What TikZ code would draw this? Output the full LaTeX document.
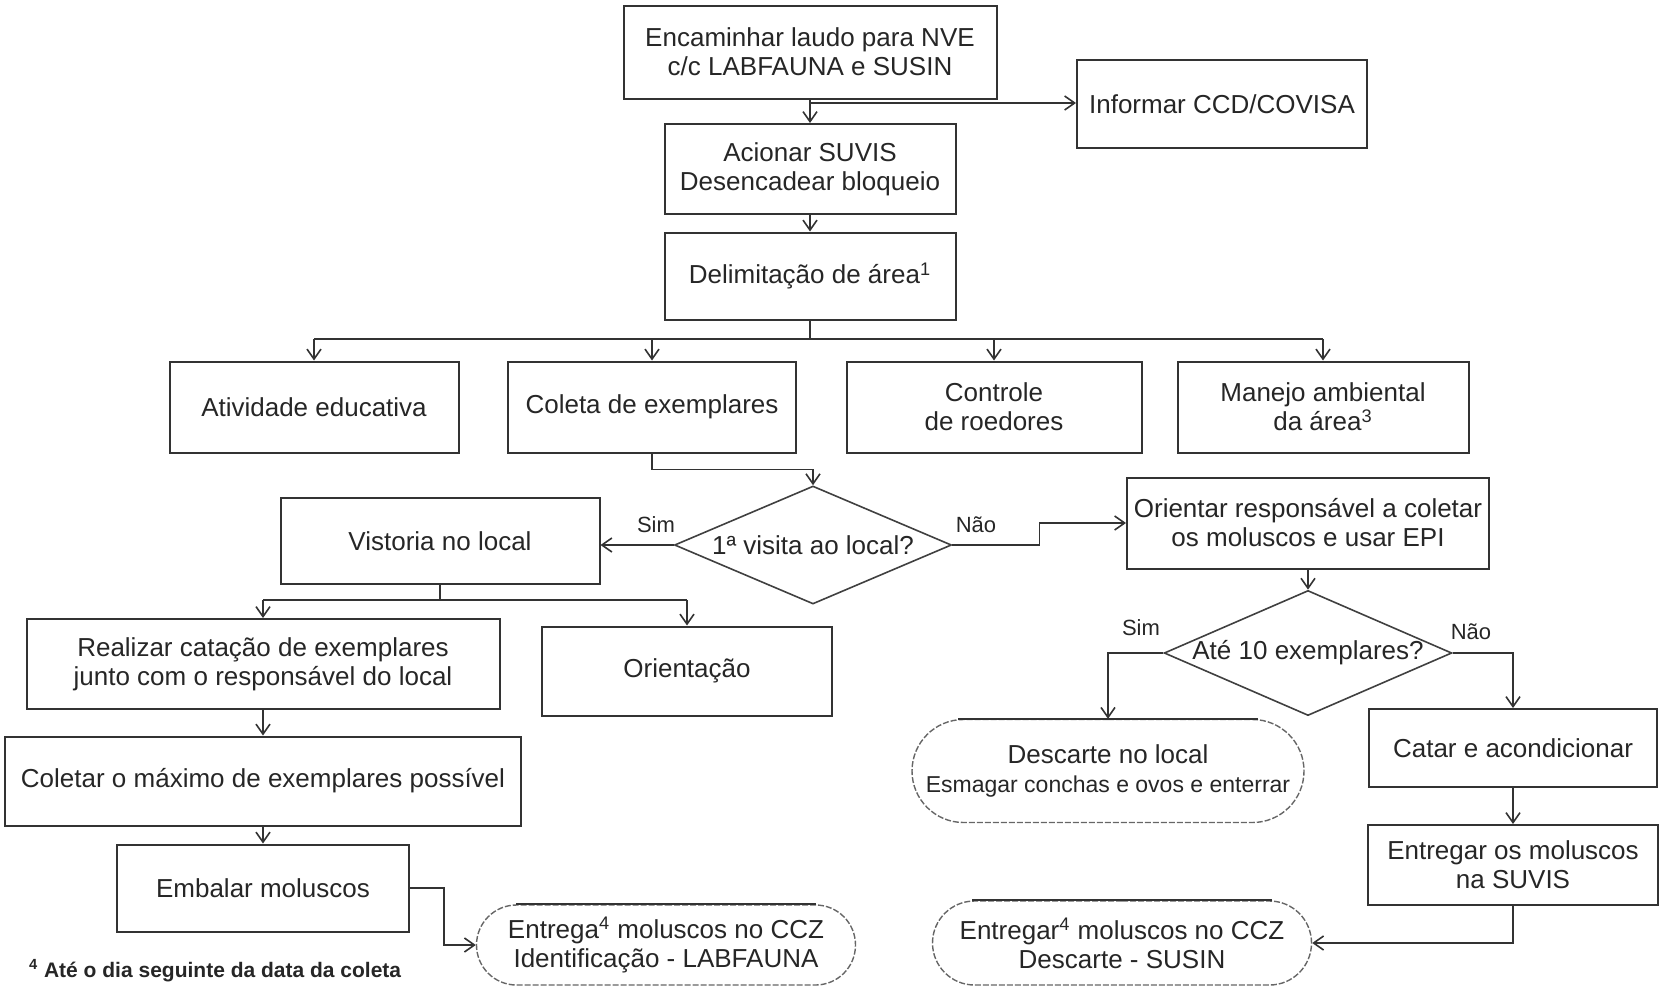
\documentclass[tikz,border=0pt]{standalone}
\usepackage{fontspec}
\setmainfont{Liberation Sans}
\usetikzlibrary{arrows.meta,shapes.geometric,shapes.misc,calc}
\begin{document}
\begin{tikzpicture}[x=0.5pt,y=-0.5pt,
  every node/.style={text=black!85},
  box/.style 2 args={draw=black!80, line width=1pt, rectangle, inner sep=0pt, align=center,
     font=\fontsize{13}{14.5}\selectfont, minimum width=#1*0.5pt, minimum height=#2*0.5pt},
  dec/.style 2 args={draw=black!75, line width=0.8pt, diamond, aspect=2.3, inner sep=0pt, align=center,
     font=\fontsize{13}{14.5}\selectfont, minimum width=#1*0.5pt, minimum height=#2*0.5pt},
  term/.style 2 args={draw=black!60, line width=0.7pt, dash pattern=on 3pt off 1pt, rounded rectangle,
     inner sep=0pt, align=center, font=\fontsize{13}{14.5}\selectfont,
     minimum width=#1*0.5pt, minimum height=#2*0.5pt},
  arr/.style={draw=black!80, line width=0.8pt, -{Straight Barb[length=5pt,width=7pt]}},
  ln/.style={draw=black!80, line width=0.8pt},
  lab/.style={font=\fontsize{11}{13}\selectfont}
]
\useasboundingbox (0,0) rectangle (1659,985);

% top column
\node[box={373}{93}] (enc) at (810,52) {Encaminhar laudo para NVE\\c/c LABFAUNA e SUSIN};
\node[box={290}{88}] (inf) at (1222,104) {Informar CCD/COVISA};
\node[box={291}{90}] (aci) at (810,169) {Acionar SUVIS\\Desencadear bloqueio};
\node[box={291}{87}] (del) at (810,276) {Delimitação de área\textsuperscript{1}};

% four boxes
\node[box={289}{91}] (ati) at (314,407) {Atividade educativa};
\node[box={288}{91}] (col) at (652,407) {Coleta de exemplares};
\node[box={295}{91}] (con) at (994,407) {Controle\\de roedores};
\node[box={291}{91}] (man) at (1323,407) {Manejo ambiental\\da área\textsuperscript{3}};

% decision 1
\node[dec={277}{118}] (d1) at (813,545) {1ª visita ao local?};
\node[box={319}{86}] (vis) at (440,541) {Vistoria no local};
\node[box={362}{91}] (ori) at (1308,523) {Orientar responsável a coletar\\os moluscos e usar EPI};

% left column
\node[box={473}{90}] (rea) at (263,664) {Realizar catação de exemplares\\junto com o responsável do local};
\node[box={290}{89}] (orn) at (687,671) {Orientação};
\node[box={516}{89}] (clt) at (263,781) {Coletar o máximo de exemplares possível};
\node[box={292}{87}] (emb) at (263,888) {Embalar moluscos};
\node[term={379}{80}] (t1) at (666,945) {Entrega\textsuperscript{4} moluscos no CCZ\\Identificação - LABFAUNA};
\node[anchor=west, font=\bfseries\fontsize{10.5}{12}\selectfont] (fn) at (22,971) {\textsuperscript{4} Até o dia seguinte da data da coleta};

% right column
\node[dec={264}{118}] (d2) at (1308,653) {Até 10 exemplares?};
\node[term={392}{103}] (t2) at (1108,771) {Descarte no local\\{\fontsize{11.5}{14}\selectfont Esmagar conchas e ovos e enterrar}};
\node[box={288}{78}] (cat) at (1513,748) {Catar e acondicionar};
\node[box={290}{80}] (ent) at (1513,865) {Entregar os moluscos\\na SUVIS};
\node[term={379}{84}] (t3) at (1122,943) {Entregar\textsuperscript{4} moluscos no CCZ\\Descarte - SUSIN};

% solid tops of terminators
\foreach \t/\w in {t1/150, t2/150, t3/150}{
  \draw[draw=black!80, line width=0.9pt] ($(\t.north)+(-\w,0)$) -- ($(\t.north)+(\w,0)$);
}

% connectors
\coordinate (s1) at (810,103);
\draw[arr] (enc.south) -- (aci.north);
\draw[arr] (s1) -- (s1 -| inf.west);
\draw[arr] (aci.south) -- (del.north);
\coordinate (bus) at (810,339);
\draw[ln] (del.south) -- (bus);
\draw[ln] (bus -| ati.north) -- (bus -| man.north);
\foreach \n in {ati,col,con,man}{ \draw[arr] (bus -| \n.north) -- (\n.north); }

\draw[arr] (col.south) -- ++(0,16) -| (d1.north);
\draw[arr] (d1.west) -- (d1.west -| vis.east);
\node[lab] (sim1) at (656,525) {Sim};
\draw[arr] (d1.east) -- ++(87,0) |- (ori.west);
\node[lab] (nao1) at (976,525) {Não};

\coordinate (b2) at (440,600);
\draw[ln] (vis.south) -- (b2);
\draw[ln] (b2 -| rea.north) -- (b2 -| orn.north);
\draw[arr] (b2 -| rea.north) -- (rea.north);
\draw[arr] (b2 -| orn.north) -- (orn.north);
\draw[arr] (rea.south) -- (clt.north);
\draw[arr] (clt.south) -- (emb.north);
\draw[arr] (emb.east) -- ++(34,0) |- (t1.west);

\draw[arr] (ori.south) -- (d2.north);
\draw[arr] (d2.west) -| (t2.north);
\node[lab] (sim2) at (1141,628) {Sim};
\draw[arr] (d2.east) -| (cat.north);
\node[lab] (nao2) at (1471,632) {Não};
\draw[arr] (cat.south) -- (ent.north);
\draw[arr] (ent.south) |- (t3.east);
\end{tikzpicture}
\end{document}
